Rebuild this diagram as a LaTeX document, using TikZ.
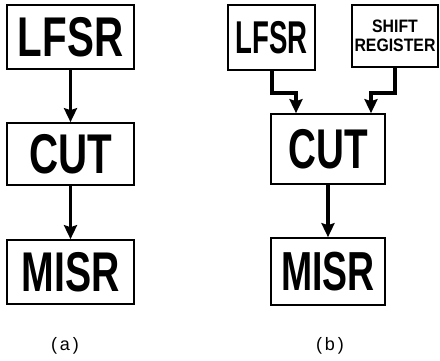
\documentclass[tikz,border=0pt]{standalone}
\usepackage{fontspec}
\setmainfont{Liberation Sans}
\usetikzlibrary{arrows.meta}
\newcommand{\bt}[3]{\scalebox{#1}[1]{\fontsize{#2}{#2}\selectfont\bfseries #3}}
\begin{document}
\begin{tikzpicture}[x=1pt,y=-1pt,
  blk/.style={draw,line width=1.6pt,inner sep=0pt,anchor=center},
  arr/.style={line width=3.5pt,-{Stealth[length=14pt,width=13pt,inset=2pt]}},
  elb/.style={line width=4pt,-{Stealth[length=14pt,width=13pt,inset=2pt]}},
  sublabel/.style={font=\fontsize{18pt}{18pt}\selectfont,anchor=center,inner sep=0pt}]
\useasboundingbox (0,0) rectangle (440,361);
% (a)
\node[blk,minimum width=127pt,minimum height=64pt] (La) at (70.5,37) {\bt{0.72}{56pt}{LFSR}};
\node[blk,minimum width=127pt,minimum height=62pt] (Ca) at (70.5,154) {\bt{0.72}{56pt}{CUT}};
\node[blk,minimum width=127pt,minimum height=64pt] (Ma) at (70.5,272) {\bt{0.7}{56pt}{MISR}};
\draw[arr] (La) -- (Ca);
\draw[arr] (Ca) -- (Ma);
\node[sublabel] (la) at (65,346) {(\,a\,)};
% (b)
\node[blk,minimum width=87pt,minimum height=65pt] (Lb) at (271.5,37.5) {\bt{0.6}{46pt}{LFSR}};
\node[blk,minimum width=86pt,minimum height=62pt,align=center] (Sb) at (395,36)
  {\scalebox{0.88}[1]{\parbox{96pt}{\centering\fontsize{18pt}{19pt}\selectfont\bfseries SHIFT\\REGISTER}}};
\node[blk,minimum width=114pt,minimum height=70pt] (Cb) at (328,149) {\bt{0.69}{56pt}{CUT}};
\node[blk,minimum width=114pt,minimum height=67pt] (Mb) at (328,271.5) {\bt{0.68}{55pt}{MISR}};
\coordinate (jl) at (296,93);
\coordinate (jr) at (371,93);
\draw[elb] (Lb.south) |- (jl) -- (jl |- Cb.north);
\draw[elb] (Sb.south) |- (jr) -- (jr |- Cb.north);
\draw[arr] (Cb) -- (Mb);
\node[sublabel] (lb) at (330,346) {(\,b\,)};
\end{tikzpicture}
\end{document}
